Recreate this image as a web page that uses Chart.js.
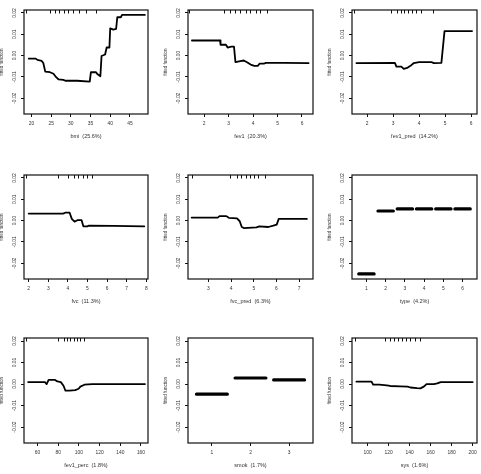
<!DOCTYPE html>
<html>
<head>
<meta charset="utf-8">
<script src="https://cdn.jsdelivr.net/npm/chart.js@4.4.1/dist/chart.umd.min.js"></script>
<style>
body { margin: 0; background: #fff; }
#wrap { position: relative; width: 481px; height: 474px; overflow: hidden; background: #fff; }
#wrap canvas { position: absolute; }
</style>
</head>
<body>
<div id="wrap"></div>
<script>
// y axis shared by every panel
const yTicks = [-0.02, -0.01, 0, 0.01, 0.02];
const yTickLabels = ["-0.02", "-0.01", "0.00", "0.01", "0.02"];

// bmi
const bmiX = [19.3, 21.1, 21.5, 22.6, 23.0, 23.5, 24.7, 25.6, 26.2, 26.9, 28.1, 28.6, 31.6, 34.8, 35.1, 36.4, 36.8, 37.5, 37.6, 37.8, 38.7, 39.1, 39.8, 40.0, 40.8, 41.5, 41.8, 42.7, 43.0, 48.8];
const bmiY = [-0.0014, -0.0014, -0.002, -0.0025, -0.0035, -0.0075, -0.0078, -0.0085, -0.010, -0.0112, -0.0114, -0.0118, -0.0118, -0.0122, -0.0078, -0.0078, -0.0088, -0.0097, -0.0097, -0.0002, 0.0005, 0.0038, 0.0038, 0.0128, 0.0122, 0.0125, 0.018, 0.018, 0.0191, 0.0191];
const bmiRug = [18.5, 24.6, 25.9, 27.0, 28.3, 29.4, 30.6, 32.0, 33.8, 36.5];

// fev1
const fev1X = [1.5, 2.65, 2.67, 2.89, 2.96, 3.11, 3.22, 3.28, 3.48, 3.62, 3.77, 3.9, 4.05, 4.19, 4.27, 4.44, 4.52, 5.3, 6.27];
const fev1Y = [0.0071, 0.0071, 0.0051, 0.0051, 0.0038, 0.0042, 0.0042, -0.0031, -0.0026, -0.0023, -0.0032, -0.0042, -0.0048, -0.0048, -0.0038, -0.0038, -0.0034, -0.0034, -0.0035];
const fev1Rug = [1.4, 2.82, 3.07, 3.27, 3.48, 3.70, 3.89, 4.10, 4.30, 4.58];

// fev1_pred
const fev1PredX = [1.59, 3.07, 3.13, 3.32, 3.41, 3.54, 3.67, 3.8, 4.0, 4.48, 4.57, 4.86, 4.98, 6.04];
const fev1PredY = [-0.0035, -0.0034, -0.0052, -0.0052, -0.0062, -0.0058, -0.0048, -0.0035, -0.0031, -0.0031, -0.0035, -0.0034, 0.0115, 0.0115];
const fev1PredRug = [1.51, 2.91, 3.17, 3.31, 3.44, 3.58, 3.73, 3.88, 4.06, 4.55];

// fvc
const fvcX = [2.0, 3.76, 3.86, 4.09, 4.2, 4.34, 4.48, 4.7, 4.79, 4.99, 5.06, 6.32, 7.9];
const fvcY = [0.0033, 0.0033, 0.0037, 0.0037, 0.0008, -0.0005, 0.0002, 0.0002, -0.0027, -0.0027, -0.0024, -0.0025, -0.0027];
const fvcRug = [1.88, 3.5, 4.02, 4.31, 4.53, 4.75, 4.99, 5.23];

// fvc_pred
const fvcPredX = [2.26, 3.41, 3.49, 3.79, 3.9, 4.26, 4.38, 4.47, 4.56, 5.12, 5.24, 5.64, 5.86, 6.01, 6.1, 7.34];
const fvcPredY = [0.0014, 0.0014, 0.0021, 0.0021, 0.0013, 0.001, -0.0003, -0.003, -0.0035, -0.0032, -0.0027, -0.003, -0.0024, -0.0019, 0.0008, 0.0008];
const fvcPredRug = [2.27, 3.93, 4.26, 4.45, 4.64, 4.82, 5.0, 5.19, 5.49];

// type (factor)
const typeLevels = ["1", "2", "3", "4", "5", "6"];
const typeY = [-0.025, 0.0045, 0.0055, 0.0055, 0.0055, 0.0055];

// fev1_perc
const fev1PercX = [50.9, 67.2, 68.8, 70.7, 77, 79.2, 82.5, 85.1, 87, 90.9, 96.5, 99.7, 101.4, 105.3, 112.8, 163.9];
const fev1PercY = [0.0009, 0.0009, 0, 0.0019, 0.0019, 0.0012, 0.0009, -0.0008, -0.0031, -0.0031, -0.0028, -0.0022, -0.0012, -0.0003, 0, 0];
const fev1PercRug = [49.3, 80.2, 85.1, 88.3, 91.6, 94.9, 98.1, 101.4, 104.6];

// smok (factor)
const smokLevels = ["1", "2", "3"];
const smokY = [-0.0047, 0.0028, 0.0019];

// sys
const sysX = [89.4, 103.8, 105.4, 111.2, 118.3, 121.5, 131.1, 138.1, 140.7, 147.1, 150.3, 153.5, 156.1, 163.1, 166.3, 169.6, 200];
const sysY = [0.0011, 0.0011, -0.0003, -0.0003, -0.0006, -0.0009, -0.0011, -0.0012, -0.0016, -0.0019, -0.002, -0.0012, 0, 0, 0.0003, 0.0009, 0.0009];
const sysRug = [87.8, 116.7, 121.5, 125.3, 128.5, 132.7, 136.9, 140.7, 145.5, 149.7];

const FONT = '"Liberation Sans", Arial, sans-serif';
const INK = '#111';
const TXT = '#333';

const panels = [
  { title: 'bmi  (25.6%)', x: bmiX, y: bmiY, rug: bmiRug, min: 18.1, max: 49.6, xticks: [20, 25, 30, 35, 40, 45] },
  { title: 'fev1  (20.3%)', x: fev1X, y: fev1Y, rug: fev1Rug, min: 1.34, max: 6.45, xticks: [2, 3, 4, 5, 6] },
  { title: 'fev1_pred  (14.2%)', x: fev1PredX, y: fev1PredY, rug: fev1PredRug, min: 1.42, max: 6.23, xticks: [2, 3, 4, 5, 6] },
  { title: 'fvc  (11.3%)', x: fvcX, y: fvcY, rug: fvcRug, min: 1.76, max: 8.09, xticks: [2, 3, 4, 5, 6, 7, 8] },
  { title: 'fvc_pred  (6.3%)', x: fvcPredX, y: fvcPredY, rug: fvcPredRug, min: 2.10, max: 7.61, xticks: [3, 4, 5, 6, 7] },
  { title: 'type  (4.2%)', levels: typeLevels, y: typeY, min: 0.25, max: 6.75, xticks: [1, 2, 3, 4, 5, 6] },
  { title: 'fev1_perc  (1.8%)', x: fev1PercX, y: fev1PercY, rug: fev1PercRug, min: 46.9, max: 166.8, xticks: [60, 80, 100, 120, 140, 160] },
  { title: 'smok  (1.7%)', levels: smokLevels, y: smokY, min: 0.38, max: 3.62, xticks: [1, 2, 3] },
  { title: 'sys  (1.6%)', x: sysX, y: sysY, rug: sysRug, min: 85.2, max: 204.1, xticks: [100, 120, 140, 160, 180, 200] }
];

// plot box placement on the page
const colLeft = [24, 188, 352];
const colWidth = [124, 125, 125];
const rowTop = [10, 175, 338];
const rowHeight = [104, 104, 105];
const YW = 30, XH = 30, PADT = 6, PADR = 4;

// box, rug and rotated y labels the way base R draws them
const rPlot = {
  id: 'rPlot',
  afterDraw(chart, args, opts) {
    const { ctx, chartArea: a, scales: { x, y } } = chart;
    ctx.save();
    ctx.strokeStyle = INK;
    ctx.lineWidth = 1;
    (opts.rug || []).forEach(v => {
      const px = Math.round(x.getPixelForValue(v)) + 0.5;
      ctx.beginPath();
      ctx.moveTo(px, a.top);
      ctx.lineTo(px, a.top + 3.5);
      ctx.stroke();
    });
    ctx.lineWidth = 1.2;
    ctx.strokeRect(a.left, a.top, a.right - a.left, a.bottom - a.top);
    ctx.fillStyle = TXT;
    ctx.font = '4.9px ' + FONT;
    ctx.textAlign = 'center';
    ctx.textBaseline = 'middle';
    yTicks.forEach((v, i) => {
      ctx.save();
      ctx.translate(a.left - 9, y.getPixelForValue(v));
      ctx.rotate(-Math.PI / 2);
      ctx.fillText(yTickLabels[i], 0, 0);
      ctx.restore();
    });
    ctx.restore();
  }
};

const wrap = document.getElementById('wrap');

panels.forEach((p, i) => {
  const col = i % 3, row = Math.floor(i / 3);
  const cv = document.createElement('canvas');
  const w = YW + colWidth[col] + PADR;
  const h = PADT + rowHeight[row] + XH;
  cv.width = w;
  cv.height = h;
  cv.style.left = (colLeft[col] - YW) + 'px';
  cv.style.top = (rowTop[row] - PADT) + 'px';
  cv.style.width = w + 'px';
  cv.style.height = h + 'px';
  wrap.appendChild(cv);

  let pts, lw;
  if (p.levels) {
    pts = [];
    p.levels.forEach((lv, k) => {
      const c = k + 1;
      pts.push({ x: c - 0.4, y: p.y[k] }, { x: c + 0.4, y: p.y[k] }, { x: c + 0.4, y: null });
    });
    lw = 3.2;
  } else {
    pts = p.x.map((v, k) => ({ x: v, y: p.y[k] }));
    lw = 1.8;
  }

  const grid = { display: true, drawOnChartArea: false, drawTicks: true, tickLength: 3, color: INK, lineWidth: 1 };

  new Chart(cv, {
    type: 'line',
    data: {
      datasets: [{
        data: pts,
        borderColor: '#000',
        borderWidth: lw,
        borderCapStyle: 'round',
        borderJoinStyle: 'round',
        pointRadius: 0,
        tension: 0,
        spanGaps: false,
        fill: false
      }]
    },
    options: {
      responsive: false,
      animation: false,
      devicePixelRatio: 1,
      layout: { padding: { top: PADT, right: PADR, left: 0, bottom: 0 } },
      plugins: { legend: { display: false }, tooltip: { enabled: false }, rPlot: { rug: p.rug } },
      scales: {
        x: {
          type: 'linear',
          min: p.min,
          max: p.max,
          afterBuildTicks: s => { s.ticks = p.xticks.map(v => ({ value: v })); },
          afterFit: s => { s.height = XH; },
          grid: grid,
          border: { display: false },
          ticks: { font: { family: FONT, size: 4.9 }, color: TXT, padding: 4, maxRotation: 0, autoSkip: false, callback: v => String(v) },
          title: { display: true, text: p.title, font: { family: FONT, size: 5.5 }, color: TXT, padding: { top: 0, bottom: 4 } }
        },
        y: {
          type: 'linear',
          min: -0.0274,
          max: 0.0214,
          afterBuildTicks: s => { s.ticks = yTicks.map(v => ({ value: v })); },
          afterFit: s => { s.width = YW; },
          grid: grid,
          border: { display: false },
          ticks: { display: false },
          title: { display: true, text: 'fitted function', font: { family: FONT, size: 4.6 }, color: TXT, padding: { top: 5.2, bottom: 0 } }
        }
      }
    },
    plugins: [rPlot]
  });
});
</script>
</body>
</html>
